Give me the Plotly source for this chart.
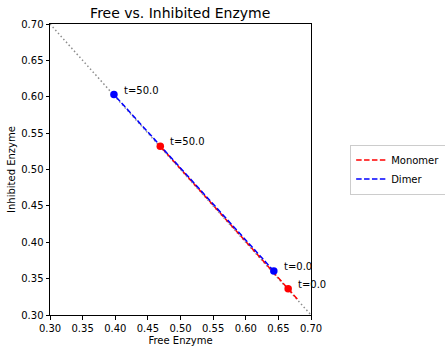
import plotly.graph_objects as go

# Data
diag_x = [0.30, 0.70]
diag_y = [0.70, 0.30]

mono_x = [0.679, 0.665, 0.469]
mono_y = [0.322, 0.336, 0.532]
mono_mark_x = [0.665, 0.469]
mono_mark_y = [0.336, 0.532]
mono_labels = ["t=0.0", "t=50.0"]

dimer_x = [0.643, 0.398]
dimer_y = [0.3605, 0.603]
dimer_mark_x = [0.643, 0.398]
dimer_mark_y = [0.3605, 0.603]
dimer_labels = ["t=0.0", "t=50.0"]

xticks = [0.30, 0.35, 0.40, 0.45, 0.50, 0.55, 0.60, 0.65, 0.70]
yticks = [0.30, 0.35, 0.40, 0.45, 0.50, 0.55, 0.60, 0.65, 0.70]

FONT = "DejaVu Sans"
RED = "#ff0000"
BLUE = "#0000ff"

fig = go.Figure()
fig.add_trace(go.Scatter(x=diag_x, y=diag_y, mode="lines", showlegend=False,
                         line=dict(color="rgba(128,128,128,0.9)", width=1.5, dash="1.5px,2.5px"),
                         hoverinfo="skip"))
fig.add_trace(go.Scatter(x=mono_x, y=mono_y, mode="lines", name="Monomer",
                         line=dict(color=RED, width=1.5, dash="5.5px,2.4px")))
fig.add_trace(go.Scatter(x=dimer_x, y=dimer_y, mode="lines", name="Dimer",
                         line=dict(color=BLUE, width=1.5, dash="5.5px,2.4px")))
fig.add_trace(go.Scatter(x=mono_mark_x, y=mono_mark_y, mode="markers", showlegend=False,
                         marker=dict(color=RED, size=7.5, line=dict(width=0))))
fig.add_trace(go.Scatter(x=dimer_mark_x, y=dimer_mark_y, mode="markers", showlegend=False,
                         marker=dict(color=BLUE, size=7.5, line=dict(width=0))))

for xs, ys, labs in [(mono_mark_x, mono_mark_y, mono_labels), (dimer_mark_x, dimer_mark_y, dimer_labels)]:
    for x, y, t in zip(xs, ys, labs):
        fig.add_annotation(x=x, y=y, text=t, showarrow=False, xanchor="left", yanchor="bottom",
                           xshift=8, yshift=-3, font=dict(family=FONT, size=10, color="black"))

axis_common = dict(showline=True, mirror=True, linecolor="black", linewidth=1,
                   ticks="outside", ticklen=3.5, tickwidth=0.8, tickcolor="black",
                   showgrid=False, zeroline=False, automargin=False,
                   tickfont=dict(family=FONT, size=10, color="black"))
fig.update_xaxes(range=[0.30, 0.70], tickvals=xticks, ticktext=[f"{v:.2f}" for v in xticks],
                 title=dict(text="Free Enzyme", font=dict(family=FONT, size=10, color="black"), standoff=4),
                 **axis_common)
fig.update_yaxes(range=[0.30, 0.70], tickvals=yticks, ticktext=[f"{v:.2f}" for v in yticks],
                 title=dict(text="Inhibited Enzyme", font=dict(family=FONT, size=10, color="black"), standoff=3),
                 **axis_common)

fig.update_layout(
    width=445, height=352,
    margin=dict(l=50, r=134, t=24, b=37, autoexpand=False),
    paper_bgcolor="white", plot_bgcolor="white",
    title=dict(text="Free vs. Inhibited Enzyme", x=0.405, xanchor="center", y=0.963, yanchor="middle",
               font=dict(family=FONT, size=14, color="black")),
    legend=dict(x=1.15, y=0.5, xanchor="left", yanchor="middle",
                bordercolor="#cccccc", borderwidth=1, bgcolor="white",
                font=dict(family=FONT, size=10, color="black"),
                itemwidth=30, tracegroupgap=0),
    font=dict(family=FONT),
)

fig.write_html("out.html")
